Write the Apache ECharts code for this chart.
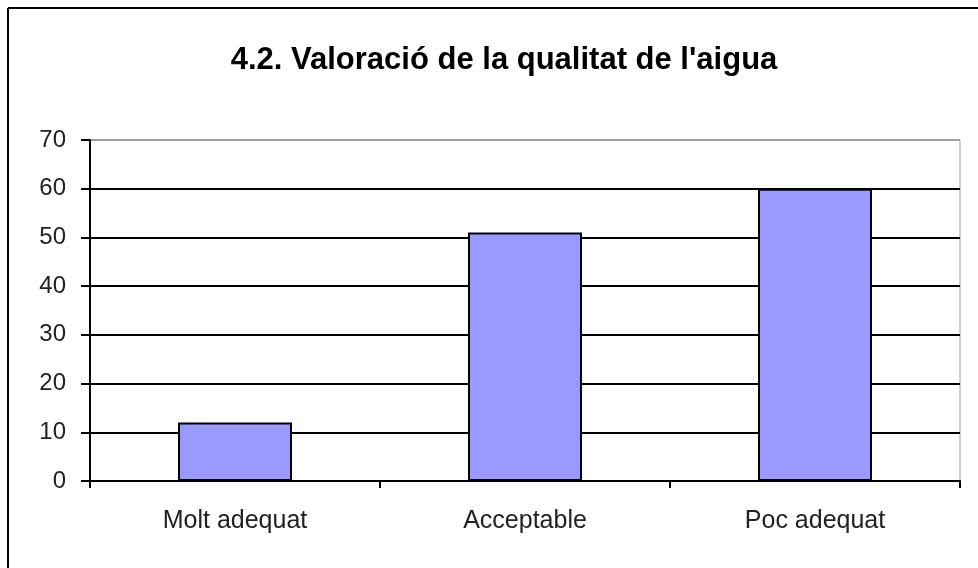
<!DOCTYPE html>
<html>
<head>
<meta charset="utf-8">
<script src="https://cdn.jsdelivr.net/npm/echarts@6/dist/echarts.min.js"></script>
<style>
  html, body { margin: 0; padding: 0; background: #fff; }
  #chart { width: 978px; height: 568px; }
</style>
</head>
<body>
<div id="chart"></div>
<script>
var titleText = "4.2. Valoració de la qualitat de l'aigua";
var categories = ['Molt adequat', 'Acceptable', 'Poc adequat'];
var values = [12, 51, 60];
var yTicks = [0, 10, 20, 30, 40, 50, 60, 70];

// gridlines black, top one (max) grey like the plot border
var splitColors = yTicks.map(function (v, i) { return i == yTicks.length - 1 ? '#a0a0a0' : '#000'; });

var myChart = echarts.init(document.getElementById('chart'));
var option = {
    backgroundColor: '#fff',
    animation: false,
    title: {
        text: titleText,
        left: 499,
        top: 40,
        textAlign: 'center',
        textStyle: { fontFamily: 'Liberation Sans', fontWeight: 'bold', fontSize: 31, color: '#000' }
    },
    grid: { left: 90, right: 18, top: 140, bottom: 87, show: true, borderColor: '#a0a0a0', borderWidth: 1 },
    xAxis: {
        type: 'category',
        data: categories,
        axisLine: { lineStyle: { color: '#000', width: 2 } },
        axisTick: { show: true, length: 7, lineStyle: { color: '#000', width: 2 } },
        axisLabel: { fontFamily: 'Liberation Sans', fontSize: 25, color: '#222', margin: 28 }
    },
    yAxis: {
        type: 'value',
        min: yTicks[0],
        max: yTicks[yTicks.length - 1],
        interval: 10,
        axisLine: { show: true, lineStyle: { color: '#000', width: 2 } },
        axisTick: { show: true, length: 9, lineStyle: { color: '#000', width: 2 } },
        axisLabel: { fontFamily: 'Liberation Sans', fontSize: 24, color: '#222', margin: 24 },
        splitLine: { lineStyle: { color: splitColors, width: 2 } }
    },
    series: [{
        type: 'bar',
        data: values,
        barWidth: 114,
        itemStyle: { color: '#9999ff', borderColor: '#000', borderWidth: 2 }
    }],
    graphic: [
        { type: 'line', shape: { x1: 8, y1: 8, x2: 978, y2: 8 }, style: { stroke: '#000', lineWidth: 2 } },
        { type: 'line', shape: { x1: 8, y1: 8, x2: 8, y2: 568 }, style: { stroke: '#000', lineWidth: 2 } }
    ]
};
myChart.setOption(option);
</script>
</body>
</html>
